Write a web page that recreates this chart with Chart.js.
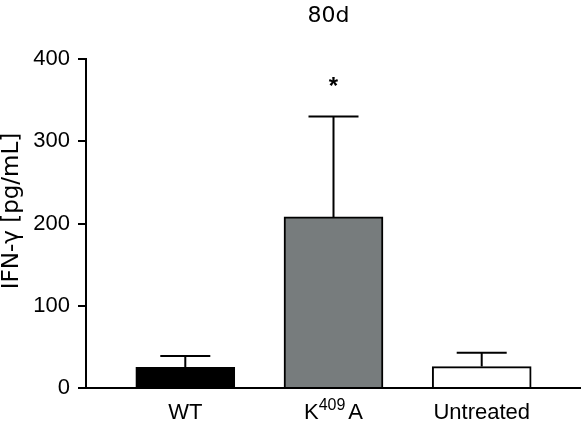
<!DOCTYPE html>
<html>
<head>
<meta charset="utf-8">
<style>
  html, body { margin: 0; padding: 0; background: #fff; }
  #wrap { width: 581px; height: 421px; }
</style>
</head>
<body>
<div id="wrap"><canvas id="chart" width="581" height="421"></canvas></div>
<script src="https://cdn.jsdelivr.net/npm/chart.js"></script>
<script>
  // values
  const groups = ["WT", "K409A", "Untreated"];
  const means = [25, 208, 26];
  const sem = [14, 122, 17];
  const yTicks = [0, 100, 200, 300, 400];
  const starred = [false, true, false];

  const fills = ["#000000", "#777c7d", "#ffffff"];
  const tickFont = "'Liberation Sans', Arial, sans-serif";

  // error bars (upper only), significance star and the K409A label with superscript
  const errorBars = {
    id: "errorBars",
    afterDatasetsDraw(chart) {
      const { ctx, scales: { x, y } } = chart;
      ctx.save();
      ctx.strokeStyle = "#000";
      ctx.lineWidth = 2;
      groups.forEach((g, i) => {
        const cx = x.getPixelForValue(i + 1);
        const yTop = y.getPixelForValue(means[i] + sem[i]);
        const yBar = y.getPixelForValue(means[i]);
        ctx.beginPath();
        ctx.moveTo(cx, yBar);
        ctx.lineTo(cx, yTop);
        ctx.moveTo(cx - 25, yTop);
        ctx.lineTo(cx + 25, yTop);
        ctx.stroke();
        if (starred[i]) {
          ctx.fillStyle = "#000";
          ctx.font = "bold 24px " + tickFont;
          ctx.textAlign = "center";
          ctx.textBaseline = "middle";
          ctx.fillText("*", cx, y.getPixelForValue(means[i] + sem[i] + 35));
        }
      });

      // "K409A" with 409 as superscript
      const m = groups[1].match(/^(\D+)(\d+)(\D+)$/);
      const big = "22px " + tickFont, small = "16px " + tickFont;
      ctx.fillStyle = "#000";
      ctx.textAlign = "left";
      ctx.textBaseline = "alphabetic";
      ctx.font = big; const w1 = ctx.measureText(m[1]).width, w3 = ctx.measureText(m[3]).width;
      ctx.font = small; const w2 = ctx.measureText(m[2]).width;
      const gap = 3;
      let px = x.getPixelForValue(2) - (w1 + w2 + w3 + gap) / 2;
      const base = 419;
      ctx.font = big; ctx.fillText(m[1], px, base); px += w1;
      ctx.font = small; ctx.fillText(m[2], px, base - 9); px += w2 + gap;
      ctx.font = big; ctx.fillText(m[3], px, base);
      ctx.restore();
    }
  };

  // figure title and y axis label
  const labels = {
    id: "labels",
    afterDraw(chart) {
      const { ctx, chartArea } = chart;
      ctx.save();
      ctx.fillStyle = "#000";
      ctx.textAlign = "center";
      ctx.textBaseline = "middle";
      ctx.font = "22px 'DejaVu Sans', sans-serif";
      ctx.fillText("80d", (chartArea.left + chartArea.right) / 2 - 5, 16);
      ctx.translate(12, 211);
      ctx.rotate(-Math.PI / 2);
      ctx.font = "23px 'DejaVu Sans', sans-serif";
      ctx.fillText("IFN-γ [pg/mL]", 0, 0);
      ctx.restore();
    }
  };

  new Chart(document.getElementById("chart"), {
    type: "bar",
    data: {
      datasets: [{
        data: means.map((m, i) => ({ x: i + 1, y: m })),
        backgroundColor: fills,
        borderColor: "#000",
        borderWidth: 2,
        borderSkipped: "bottom",
        barThickness: 99
      }]
    },
    options: {
      responsive: false,
      animation: false,
      layout: { padding: { top: 59, right: 0, bottom: 0, left: 0 } },
      plugins: { legend: { display: false }, tooltip: { enabled: false } },
      scales: {
        x: {
          type: "linear",
          offset: false,
          min: 0.33,
          max: 3.67,
          afterBuildTicks: s => { s.ticks = groups.map((g, i) => ({ value: i + 1 })); },
          afterFit: s => { s.height = 33; },
          grid: { display: false, drawTicks: false },
          border: { color: "#000", width: 2 },
          ticks: {
            padding: 12,
            color: "#000",
            font: { family: tickFont, size: 22 },
            callback: v => (v === 2 ? "" : groups[v - 1])
          }
        },
        y: {
          min: 0,
          max: 400,
          afterBuildTicks: s => { s.ticks = yTicks.map(v => ({ value: v })); },
          afterFit: s => { s.width = 86; },
          grid: { drawOnChartArea: false, drawTicks: true, tickLength: 8, color: "#000", lineWidth: 2 },
          border: { color: "#000", width: 2 },
          ticks: {
            padding: 8,
            color: "#000",
            font: { family: tickFont, size: 22 }
          }
        }
      }
    },
    plugins: [errorBars, labels]
  });
</script>
</body>
</html>
